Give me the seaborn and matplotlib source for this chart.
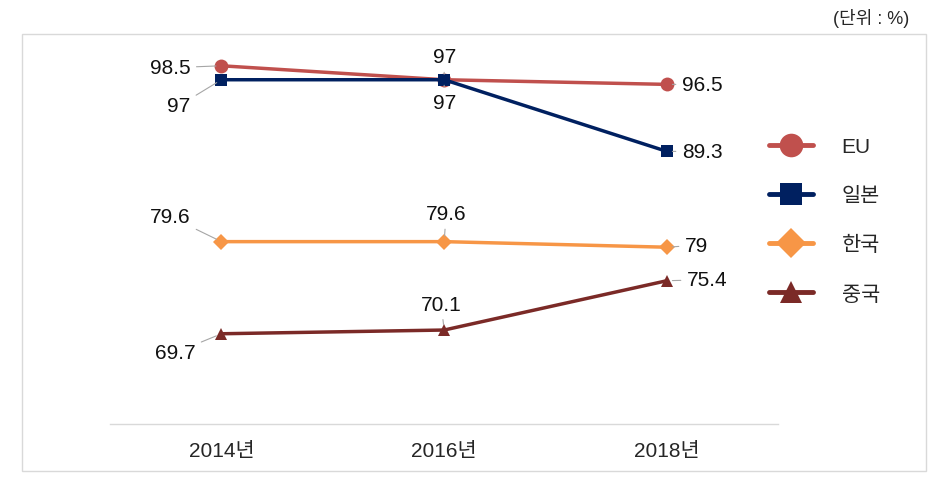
import matplotlib.pyplot as plt
import pandas as pd
import seaborn as sns
from matplotlib.lines import Line2D
from matplotlib.patches import Rectangle

# Data
years = ['2014년', '2016년', '2018년']
series = ['EU', '일본', '한국', '중국']
eu = [98.5, 97, 96.5]
japan = [97, 97, 89.3]
korea = [79.6, 79.6, 79]
china = [69.7, 70.1, 75.4]

colors = {'EU': '#C0504D', '일본': '#002060', '한국': '#F79646', '중국': '#7B2A27'}
markers = {'EU': 'o', '일본': 's', '한국': 'D', '중국': '^'}
sizes = {'EU': 10, '일본': 9, '한국': 8, '중국': 9}

# label offsets in pixels (dx, dy, ha)
offsets = {
    'EU': [(-31, -2, 'right'), (0, 23, 'center'), (15, 0, 'left')],
    '일본': [(-31, -26, 'right'), (0, -23, 'center'), (15, 0, 'left')],
    '한국': [(-31, 25, 'right'), (2, 28, 'center'), (18, 2, 'left')],
    '중국': [(-26, -19, 'right'), (-3, 26, 'center'), (20, 1, 'left')],
}

df = pd.DataFrame({
    'year': years * 4,
    'x': [0, 1, 2] * 4,
    'value': eu + japan + korea + china,
    'series': [s for s in series for _ in years],
})

sns.set_style('white')
plt.rcParams['font.family'] = ['Liberation Sans', 'Noto Sans CJK KR']

fig = plt.figure(figsize=(9.41, 4.81), dpi=100)
ax = fig.add_axes([0.117, 0.1164, 0.71, 0.797])

for s in series:
    sub = df[df['series'] == s]
    sns.lineplot(data=sub, x='x', y='value', color=colors[s], marker=markers[s],
                 markersize=sizes[s], markeredgewidth=0, linewidth=2.5, ax=ax,
                 legend=False)
    for (xv, yv), (dx, dy, ha) in zip(zip(sub['x'], sub['value']), offsets[s]):
        ax.annotate(f'{yv:g}', xy=(xv, yv), xytext=(dx, dy), textcoords='offset pixels',
                    ha=ha, va='center', fontsize=15, color='#111111',
                    arrowprops=dict(arrowstyle='-', color='#A6A6A6', lw=0.8,
                                    shrinkA=2, shrinkB=4))

ax.set_xlim(-0.5, 2.5)
ax.set_ylim(60, 101.2)
ax.set_xticks([0, 1, 2])
ax.set_xticklabels(years, fontsize=15)
ax.tick_params(axis='x', length=0, pad=12)
ax.set_yticks([])
ax.set_xlabel('')
ax.set_ylabel('')
for side in ['top', 'right', 'left']:
    ax.spines[side].set_visible(False)
ax.spines['bottom'].set_color('#D9D9D9')
ax.spines['bottom'].set_linewidth(1)

# legend
handles = [Line2D([0], [0], color=colors[s], marker=markers[s], markersize=sizes[s] + 7,
                  markeredgewidth=0, linewidth=3.5) for s in series]
fig.legend(handles, series, loc='center left', bbox_to_anchor=(0.817, 0.54),
           frameon=False, fontsize=15, handlelength=2.1, handletextpad=1.4,
           labelspacing=1.45, borderpad=0, borderaxespad=0)

# outer frame
fig.patches.append(Rectangle((22 / 941, 1 - 472 / 481), 904 / 941, 437 / 481,
                             transform=fig.transFigure, fill=False,
                             edgecolor='#D9D9D9', linewidth=1))
fig.text(0.966, 1 - 18 / 481, '(단위 : %)', ha='right', va='center', fontsize=13)

fig.savefig('out.png', dpi=100)
